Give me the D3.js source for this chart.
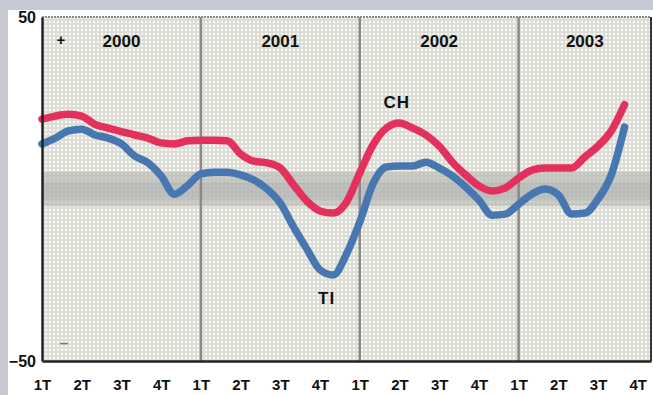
<!DOCTYPE html>
<html>
<head>
<meta charset="utf-8">
<script src="https://cdn.jsdelivr.net/npm/d3@7"></script>
<style>
  body { margin: 0; background: #fff; }
  svg { display: block; font-family: 'Liberation Sans', Arial, sans-serif; font-weight: bold; }
</style>
</head>
<body>
<div id="chart"></div>
<script>
// monthly readings, Jan 2000 .. Sep 2003 (index = month)
var chValues = [20.3, 21.2, 21.7, 21.2, 18.8, 17.7, 16.7, 15.7, 14.8, 13.4, 13.1, 14.0,
  14.2, 14.2, 14.0, 10.2, 8.1, 7.6, 6.1, 1.2, -3.5, -6.4, -7.0, -3.8,
  4.7, 12.8, 17.7, 19.2, 17.7, 15.7, 12.5, 7.8, 4.1, 0.9, -0.6, 0.3,
  3.2, 5.5, 6.1, 6.1, 6.1, 9.3, 12.5, 16.9, 24.5]
var tiValues = [13.1, 14.8, 16.9, 17.4, 15.7, 14.8, 13.1, 9.6, 7.6, 3.8, -1.5, 1.0,
  4.4, 4.9, 4.9, 4.1, 2.6, 0.0, -4.1, -11.0, -17.4, -23.5, -25.0, -18.9,
  -9.6, 1.5, 6.4, 6.7, 6.7, 7.8, 6.1, 3.8, 0.6, -3.2, -7.6, -7.3,
  -4.4, -1.5, 0.0, -1.7, -7.3, -7.0, -2.9, 4.1, 18.0]

var years = ['2000', '2001', '2002', '2003']
var quarterLabels = ['1T', '2T', '3T', '4T', '1T', '2T', '3T', '4T',
  '1T', '2T', '3T', '4T', '1T', '2T', '3T', '4T']
var yTicks = [-50, 50]
var bandOuter = [-5, 5]
var bandInner = [-3, 2]

var width = 653
var height = 395
var margin = { top: 17, left: 42, right: 2, bottom: 34 }

var svg = d3.select('#chart')
  .append('svg')
  .attr('width', width)
  .attr('height', height)

// frame around the white panel
svg.append('rect').attr('width', width).attr('height', height).attr('fill', '#c6c8d4')
svg.append('rect').attr('x', 8).attr('y', 10).attr('width', width - 8).attr('height', height - 10).attr('fill', '#fff')

var defs = svg.append('defs')
var pat = defs.append('pattern')
  .attr('id', 'dots')
  .attr('width', 4).attr('height', 4)
  .attr('patternUnits', 'userSpaceOnUse')
pat.append('rect').attr('width', 4).attr('height', 4).attr('fill', '#dcddd6')
pat.append('rect').attr('x', 1).attr('y', 1).attr('width', 2).attr('height', 2).attr('fill', '#fbfbf3')

var xPositionScale = d3.scaleLinear().domain([0, 46]).range([margin.left, width - margin.right])
var yPositionScale = d3.scaleLinear().domain([-50, 50]).range([height - margin.bottom, margin.top])

var x0 = xPositionScale(0)
var x1 = xPositionScale(46)

// plot background
svg.append('rect')
  .attr('x', x0).attr('y', yPositionScale(50))
  .attr('width', x1 - x0).attr('height', yPositionScale(-50) - yPositionScale(50))
  .attr('fill', 'url(#dots)')

// neutral band
svg.append('rect')
  .attr('x', x0).attr('y', yPositionScale(bandOuter[1]))
  .attr('width', x1 - x0)
  .attr('height', yPositionScale(bandOuter[0]) - yPositionScale(bandOuter[1]))
  .attr('fill', '#b4b5af').attr('opacity', 0.6)
svg.append('rect')
  .attr('x', x0).attr('y', yPositionScale(bandInner[1]))
  .attr('width', x1 - x0)
  .attr('height', yPositionScale(bandInner[0]) - yPositionScale(bandInner[1]))
  .attr('fill', '#a9b0b2').attr('opacity', 0.4)

// year dividers
svg.selectAll('.divider')
  .data([12, 24, 36])
  .enter()
  .append('line')
  .attr('class', 'divider')
  .attr('x1', d => xPositionScale(d)).attr('x2', d => xPositionScale(d))
  .attr('y1', yPositionScale(50)).attr('y2', yPositionScale(-50))
  .attr('stroke', '#8c8888')
  .attr('stroke-width', 2.5)

// year labels, centred in the visible part of each year
svg.selectAll('.year')
  .data(years)
  .enter()
  .append('text')
  .attr('class', 'year')
  .attr('x', (d, i) => (xPositionScale(i * 12) + xPositionScale(Math.min(i * 12 + 12, 46))) / 2)
  .attr('y', 47)
  .attr('text-anchor', 'middle')
  .style('font-size', '17px')
  .attr('fill', '#111')
  .text(d => d)

// lines
var line = d3.line()
  .x((d, i) => xPositionScale(i))
  .y(d => yPositionScale(d))
  .curve(d3.curveMonotoneX)

svg.append('path')
  .datum(tiValues)
  .attr('d', line)
  .attr('fill', 'none')
  .attr('stroke', '#4677b0')
  .attr('stroke-width', 7.5)
  .attr('stroke-linejoin', 'round')
  .attr('stroke-linecap', 'round')

svg.append('path')
  .datum(chValues)
  .attr('d', line)
  .attr('fill', 'none')
  .attr('stroke', '#e3305c')
  .attr('stroke-width', 7.5)
  .attr('stroke-linejoin', 'round')
  .attr('stroke-linecap', 'round')

// series names
svg.append('text')
  .attr('x', xPositionScale(26.8)).attr('y', 108)
  .attr('text-anchor', 'middle')
  .style('font-size', '17px')
  .style('letter-spacing', '1px')
  .attr('fill', '#111')
  .text('CH')
svg.append('text')
  .attr('x', xPositionScale(21.5)).attr('y', 304)
  .attr('text-anchor', 'middle')
  .style('font-size', '17px')
  .style('letter-spacing', '1px')
  .attr('fill', '#111')
  .text('TI')

// + and - signs
svg.append('text')
  .attr('x', 61).attr('y', 45)
  .attr('text-anchor', 'middle')
  .style('font-size', '15px')
  .attr('fill', '#111')
  .text('+')
svg.append('text')
  .attr('x', 64).attr('y', 348)
  .attr('text-anchor', 'middle')
  .style('font-size', '15px')
  .attr('fill', '#777')
  .text('\u2013')

// frame of the plot
svg.append('line')
  .attr('x1', x0).attr('x2', x1)
  .attr('y1', yPositionScale(50)).attr('y2', yPositionScale(50))
  .attr('stroke', '#8c8686').attr('stroke-width', 2)
  .attr('stroke-dasharray', '2,1')
svg.append('line')
  .attr('x1', x1).attr('x2', x1)
  .attr('y1', yPositionScale(50)).attr('y2', yPositionScale(-50))
  .attr('stroke', '#333').attr('stroke-width', 2)

// axes
var yAxis = d3.axisLeft(yPositionScale).tickValues(yTicks).tickSize(0).tickPadding(6)
svg.append('g')
  .attr('class', 'axis y-axis')
  .attr('transform', `translate(${x0},0)`)
  .call(yAxis)

var xAxis = d3.axisBottom(xPositionScale)
  .tickValues(quarterLabels.map((d, i) => i * 3))
  .tickFormat((d, i) => quarterLabels[i])
  .tickSize(0)
  .tickPadding(20)
svg.append('g')
  .attr('class', 'axis x-axis')
  .attr('transform', `translate(0,${yPositionScale(-50)})`)
  .call(xAxis)

svg.selectAll('.axis path.domain').attr('stroke', '#222').attr('stroke-width', 2.5)
svg.selectAll('.axis text')
  .style('font-size', '15px')
  .style('font-family', "'Liberation Sans', Arial, sans-serif")
  .style('font-weight', 'bold')
  .attr('fill', '#111')
svg.select('.y-axis').selectAll('text').style('font-size', '16px').attr('dy', '0.35em')
svg.select('.x-axis').selectAll('text').attr('dy', '0.62em')
</script>
</body>
</html>
